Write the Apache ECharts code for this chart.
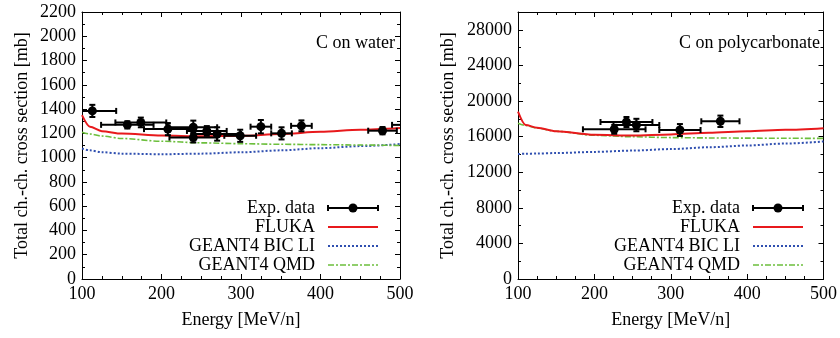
<!DOCTYPE html>
<html><head><meta charset="utf-8">
<script src="https://cdn.jsdelivr.net/npm/echarts@6/dist/echarts.min.js"></script>
<style>html,body{margin:0;padding:0;background:#fff}#c{width:840px;height:338px}</style>
</head><body><div id="c"></div>
<script>
// ---- data ----
const curveEnergy = [100, 110, 125, 150, 200, 250, 300, 350, 400, 450, 500];
const waterFluka = [1350, 1255, 1218, 1198, 1182, 1176, 1180, 1195, 1213, 1230, 1245];
const waterBic   = [1075, 1060, 1045, 1033, 1028, 1033, 1044, 1060, 1078, 1095, 1112];
const waterQmd   = [1210, 1195, 1178, 1158, 1135, 1122, 1115, 1110, 1107, 1104, 1100];
const polyFluka  = [18800, 17300, 17000, 16600, 16200, 16120, 16250, 16420, 16600, 16770, 16950];
const polyBic    = [14050, 14070, 14100, 14150, 14280, 14430, 14600, 14800, 15000, 15220, 15450];
const polyQmd    = [17500, 17250, 16950, 16600, 16150, 15980, 15890, 15850, 15830, 15810, 15800];
// experimental points: energy, sigma, energy error, sigma error
const waterExpE    = [113, 157, 174, 208, 240, 240, 257, 270, 299, 325, 351, 376, 478, 510];
const waterExpY    = [1385, 1270, 1290, 1235, 1250, 1165, 1220, 1195, 1180, 1255, 1200, 1262, 1222, 1270];
const waterExpEErr = [30, 33, 32, 30, 30, 30, 25, 30, 20, 13, 13, 13, 18, 20];
const waterExpYErr = [50, 30, 40, 50, 55, 40, 40, 55, 50, 55, 50, 45, 30, 30];
const polyExpE    = [226, 242, 255, 312, 365];
const polyExpY    = [16820, 17640, 17300, 16740, 17720];
const polyExpEErr = [41, 34, 30, 27, 25];
const polyExpYErr = [500, 560, 700, 670, 640];
const xTicks = [100, 200, 300, 400, 500];
const waterYTicks = [0, 200, 400, 600, 800, 1000, 1200, 1400, 1600, 1800, 2000, 2200];
const polyYTicks = [0, 4000, 8000, 12000, 16000, 20000, 24000, 28000];
const panelLabels = ['C on water', 'C on polycarbonate'];
const legendNames = ['Exp. data', 'FLUKA', 'GEANT4 BIC LI', 'GEANT4 QMD'];

// ---- helpers ----
const FONT = 'Liberation Serif';
const FS = 18;
const pair = (xs, ys) => xs.map((x, i) => [x, ys[i]]);
const quad = (a, b, c, d) => a.map((x, i) => [x, b[i], c[i], d[i]]);
const COLORS = {fluka: '#e8191c', bic: '#2f4fb0', qmd: '#6cbf3c'};

function renderErr(params, api) {
  const x = api.value(0), y = api.value(1), xe = api.value(2), ye = api.value(3);
  const c = api.coord([x, y]);
  const l = api.coord([x - xe, y]), r = api.coord([x + xe, y]);
  const t = api.coord([x, y + ye]), b = api.coord([x, y - ye]);
  const cap = 3;
  const st = {stroke: '#000', lineWidth: 2};
  const seg = (x1, y1, x2, y2) => ({type: 'line', shape: {x1, y1, x2, y2}, style: st});
  return {type: 'group', children: [
    seg(l[0], l[1], r[0], r[1]),
    seg(l[0], l[1] - cap, l[0], l[1] + cap),
    seg(r[0], r[1] - cap, r[0], r[1] + cap),
    seg(t[0], t[1], b[0], b[1]),
    seg(t[0] - cap, t[1], t[0] + cap, t[1]),
    seg(b[0] - cap, b[1], b[0] + cap, b[1]),
    {type: 'circle', shape: {cx: c[0], cy: c[1], r: 4.5}, style: {fill: '#000'}}
  ]};
}

const grids = [
  {left: 82, top: 12, width: 318, height: 267},
  {left: 518, top: 12, width: 307, height: 267}
];
const yMax = [2200, 30000], yInt = [200, 4000];
const yLabelSets = [waterYTicks, polyYTicks];
const yNameGap = [51, 61];

const xAxes = [], yAxes = [];
[0, 1].forEach(g => {
  const tick = {show: true, inside: true, length: 5, lineStyle: {color: '#000'}};
  const minor = {show: true, splitNumber: 4, length: 3, lineStyle: {color: '#000'}};
  const line = {show: true, onZero: false, lineStyle: {color: '#000', width: 1}};
  xAxes.push({type: 'value', gridIndex: g, min: 100, max: 500, interval: 100, position: 'bottom',
    axisLine: line, axisTick: tick, minorTick: minor, splitLine: {show: false},
    axisLabel: {color: '#000', fontFamily: FONT, fontSize: FS, margin: 6,
      formatter: v => xTicks.includes(v) ? String(v) : ''},
    name: 'Energy [MeV/n]', nameLocation: 'middle', nameGap: 32,
    nameTextStyle: {color: '#000', fontFamily: FONT, fontSize: FS}});
  xAxes.push({type: 'value', gridIndex: g, min: 100, max: 500, interval: 100, position: 'top',
    axisLine: line, axisTick: tick, minorTick: minor, splitLine: {show: false}, axisLabel: {show: false}});
  const ymin = {show: true, splitNumber: 2, length: 3, lineStyle: {color: '#000'}};
  yAxes.push({type: 'value', gridIndex: g, min: 0, max: yMax[g], interval: yInt[g], position: 'left',
    axisLine: line, axisTick: tick, minorTick: ymin, splitLine: {show: false},
    axisLabel: {color: '#000', fontFamily: FONT, fontSize: FS, margin: 6,
      formatter: v => yLabelSets[g].includes(v) ? String(v) : ''},
    name: 'Total ch.-ch. cross section [mb]', nameLocation: 'middle', nameGap: yNameGap[g],
    nameTextStyle: {color: '#000', fontFamily: FONT, fontSize: FS}});
  yAxes.push({type: 'value', gridIndex: g, min: 0, max: yMax[g], interval: yInt[g], position: 'right',
    axisLine: line, axisTick: tick, minorTick: ymin, splitLine: {show: false}, axisLabel: {show: false}});
});

function lineSeries(name, g, ys, color, type, width) {
  return {type: 'line', name, xAxisIndex: g * 2, yAxisIndex: g * 2, data: pair(curveEnergy, ys),
    showSymbol: false, smooth: 0.3, smoothMonotone: 'x', animation: false,
    lineStyle: {color, width, type}, z: 2};
}
const series = [
  lineSeries('GEANT4 BIC LI', 0, waterBic, COLORS.bic, [2, 2], 2),
  lineSeries('GEANT4 QMD', 0, waterQmd, COLORS.qmd, [6, 2, 2, 2], 1.6),
  lineSeries('FLUKA', 0, waterFluka, COLORS.fluka, 'solid', 2),
  lineSeries('GEANT4 BIC LI', 1, polyBic, COLORS.bic, [2, 2], 2),
  lineSeries('GEANT4 QMD', 1, polyQmd, COLORS.qmd, [6, 2, 2, 2], 1.6),
  lineSeries('FLUKA', 1, polyFluka, COLORS.fluka, 'solid', 2),
  {type: 'custom', name: 'Exp. data', xAxisIndex: 0, yAxisIndex: 0, clip: true, animation: false, z: 3,
    renderItem: renderErr, data: quad(waterExpE, waterExpY, waterExpEErr, waterExpYErr)},
  {type: 'custom', name: 'Exp. data', xAxisIndex: 2, yAxisIndex: 2, clip: true, animation: false, z: 3,
    renderItem: renderErr, data: quad(polyExpE, polyExpY, polyExpEErr, polyExpYErr)}
];

// legend & panel label (decorations)
const graphic = [];
[0, 1].forEach(g => {
  const right = grids[g].left + grids[g].width;
  graphic.push({type: 'text', x: right - 5, y: 43,
    style: {text: panelLabels[g], fontFamily: FONT, fontSize: FS, fill: '#000', textAlign: 'right', textVerticalAlign: 'middle'}});
  const textX = right - 85, s0 = right - 72, s1 = right - 22;
  const rows = [208, 227, 246, 265];
  legendNames.forEach((n, i) => {
    graphic.push({type: 'text', x: textX, y: rows[i],
      style: {text: n, fontFamily: FONT, fontSize: FS, fill: '#000', textAlign: 'right', textVerticalAlign: 'middle'}});
  });
  const y0 = rows[0];
  const st = {stroke: '#000', lineWidth: 2};
  graphic.push({type: 'line', shape: {x1: s0, y1: y0, x2: s1, y2: y0}, style: st});
  graphic.push({type: 'line', shape: {x1: s0, y1: y0 - 3, x2: s0, y2: y0 + 3}, style: st});
  graphic.push({type: 'line', shape: {x1: s1, y1: y0 - 3, x2: s1, y2: y0 + 3}, style: st});
  graphic.push({type: 'circle', shape: {cx: (s0 + s1) / 2, cy: y0, r: 4.5}, style: {fill: '#000'}});
  graphic.push({type: 'line', shape: {x1: s0, y1: rows[1], x2: s1, y2: rows[1]}, style: {stroke: COLORS.fluka, lineWidth: 2}});
  graphic.push({type: 'line', shape: {x1: s0, y1: rows[2], x2: s1, y2: rows[2]}, style: {stroke: COLORS.bic, lineWidth: 2, lineDash: [2, 2]}});
  graphic.push({type: 'line', shape: {x1: s0, y1: rows[3], x2: s1, y2: rows[3]}, style: {stroke: COLORS.qmd, lineWidth: 1.6, lineDash: [6, 2, 2, 2]}});
});

const chart = echarts.init(document.getElementById('c'), null, {renderer: 'canvas'});
chart.setOption({
  animation: false,
  backgroundColor: '#fff',
  grid: grids,
  xAxis: xAxes,
  yAxis: yAxes,
  series,
  graphic
});
</script></body></html>
